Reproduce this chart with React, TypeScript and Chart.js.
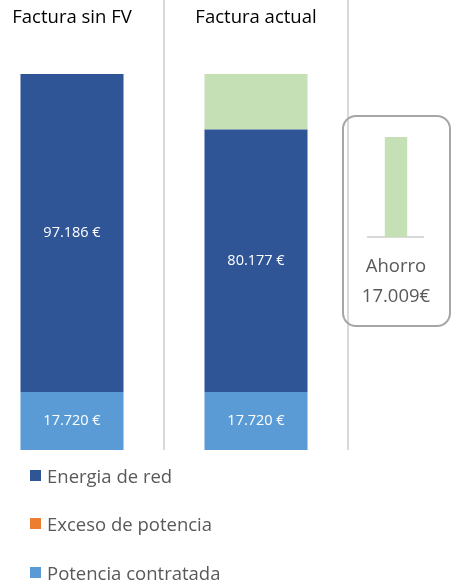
import React, { useEffect, useRef } from "react";
import { Chart, registerables } from "chart.js";

Chart.register(...registerables);

// ---- data ----
const categories = ["Factura sin FV", "Factura actual", ""];
const potenciaContratada = [17720, 17720, null];
const excesoPotencia = [0, 0, null];
const energiaRed = [97186, 80177, null];
const ahorroSegment = [null, 17009, null];
const ahorroValue = [17009];
const ahorroLabel = [["Ahorro", "17.009€"]];
const seriesNames = ["Energia de red", "Exceso de potencia", "Potencia contratada"];
const seriesColors = ["#2f5597", "#ed7d31", "#5b9bd5"];
const ahorroColor = "#c5e0b4";
const Y_MAX = 137500;
const INSET_MAX = 20411;

const FONT = "'Open Sans', 'DejaVu Sans', sans-serif";

const fmt = (v: number) =>
  String(Math.round(v)).replace(/\B(?=(\d{3})+(?!\d))/g, ".") + " €";

const valueLabels = {
  id: "valueLabels",
  afterDatasetsDraw(chart: any) {
    const ctx = chart.ctx;
    ctx.save();
    ctx.fillStyle = "#ffffff";
    ctx.font = `14.5px ${FONT}`;
    ctx.textAlign = "center";
    ctx.textBaseline = "middle";
    chart.data.datasets.forEach((ds: any, i: number) => {
      if (!ds.showValues) return;
      const meta = chart.getDatasetMeta(i);
      meta.data.forEach((bar: any, j: number) => {
        const v = ds.data[j];
        if (v == null || v === 0) return;
        const { x, y, base } = bar.getProps(["x", "y", "base"], true);
        ctx.fillText(fmt(v), x, (y + base) / 2);
      });
    });
    ctx.restore();
  },
};

export default function App() {
  const mainRef = useRef<HTMLCanvasElement>(null);
  const insetRef = useRef<HTMLCanvasElement>(null);

  useEffect(() => {
    const main = new Chart(mainRef.current!, {
      type: "bar",
      data: {
        labels: categories,
        datasets: [
          { label: seriesNames[2], data: potenciaContratada, backgroundColor: seriesColors[2], showValues: true } as any,
          { label: seriesNames[1], data: excesoPotencia, backgroundColor: seriesColors[1] },
          { label: seriesNames[0], data: energiaRed, backgroundColor: seriesColors[0], showValues: true } as any,
          { label: "Ahorro", data: ahorroSegment, backgroundColor: ahorroColor },
        ],
      },
      options: {
        responsive: false,
        animation: false,
        layout: { padding: { top: 0, bottom: 136, left: 0, right: 0 } },
        datasets: { bar: { categoryPercentage: 1, barPercentage: 0.56, borderWidth: 0 } },
        plugins: { legend: { display: false }, tooltip: { enabled: false } },
        scales: {
          x: {
            position: "top",
            stacked: true,
            border: { display: false },
            grid: { offset: true, color: "#d9d9d9", lineWidth: 2, drawTicks: false },
            ticks: {
              color: "#000000",
              font: { family: FONT, size: 18.5, lineHeight: 35 / 18.5 },
              mirror: true,
              padding: 0,
              maxRotation: 0,
              autoSkip: false,
            },
          },
          y: { stacked: true, display: false, min: 0, max: Y_MAX },
        },
      },
      plugins: [valueLabels],
    });

    const inset = new Chart(insetRef.current!, {
      type: "bar",
      data: {
        labels: ahorroLabel as any,
        datasets: [{ label: "Ahorro", data: ahorroValue, backgroundColor: ahorroColor }],
      },
      options: {
        responsive: false,
        animation: false,
        layout: { padding: 0 },
        datasets: { bar: { categoryPercentage: 1, barPercentage: 0.405, borderWidth: 0 } },
        plugins: { legend: { display: false }, tooltip: { enabled: false } },
        scales: {
          x: {
            border: { display: true, color: "#d9d9d9", width: 2 },
            grid: { display: true, color: "rgba(0,0,0,0)", drawTicks: false },
            ticks: {
              color: "#595959",
              font: { family: FONT, size: 18.5, lineHeight: 30 / 18.5 },
              padding: 15,
              maxRotation: 0,
            },
          },
          y: { display: false, min: 0, max: INSET_MAX },
        },
      },
    });

    return () => {
      main.destroy();
      inset.destroy();
    };
  }, []);

  const legendItems = seriesNames.map((name, i) => (
    <div
      key={name}
      style={{
        position: "absolute",
        left: 30,
        top: 475 + i * 48.5 - 15,
        height: 30,
        display: "flex",
        alignItems: "center",
        whiteSpace: "nowrap",
      }}
    >
      <span style={{ width: 11, height: 11, background: seriesColors[i], display: "inline-block", marginRight: 6 }} />
      <span style={{ color: "#595959", fontFamily: FONT, fontSize: 18.5 }}>{name}</span>
    </div>
  ));

  return (
    <div style={{ position: "fixed", left: 0, top: 0, width: 459, height: 586, overflow: "hidden", background: "#fff" }}>
      <div style={{ position: "absolute", left: -20, top: 0, width: 552, height: 586 }}>
        <canvas ref={mainRef} width={552} height={586} style={{ display: "block" }} />
      </div>
      <div
        style={{
          position: "absolute",
          left: 342,
          top: 115,
          width: 109,
          height: 212,
          border: "2px solid #a6a6a6",
          borderRadius: 14,
          boxSizing: "border-box",
        }}
      />
      <div style={{ position: "absolute", left: 354, top: 117, width: 84, height: 210 }}>
        <canvas ref={insetRef} width={84} height={210} style={{ display: "block" }} />
      </div>
      {legendItems}
    </div>
  );
}
